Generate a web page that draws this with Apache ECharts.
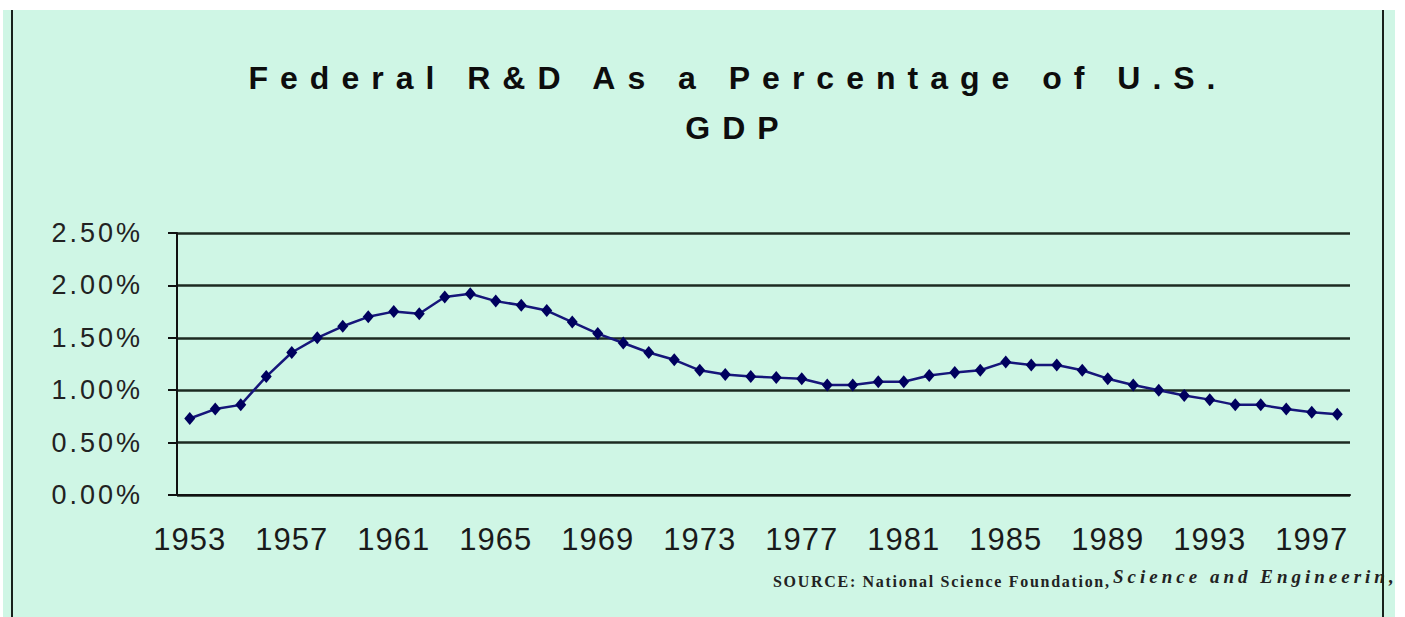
<!DOCTYPE html>
<html>
<head>
<meta charset="utf-8">
<title>Federal R&amp;D As a Percentage of U.S. GDP</title>
<script src="https://cdn.jsdelivr.net/npm/echarts@6/dist/echarts.min.js"></script>
<style>
  html, body { margin: 0; padding: 0; background: #fff; }
  #wrap { position: relative; width: 1405px; height: 617px; overflow: hidden; }
  #bg { position: absolute; left: 3px; top: 10px; width: 1392px; height: 607px; background: #cff6e5; }
  #chart { position: absolute; left: 0; top: 0; width: 1405px; height: 617px; }
  .edge { position: absolute; top: 10px; width: 2px; height: 607px; background: #18221c; z-index: 5; }
  /* the old slide spreads its letters out, svg text lets css do the same */
  #chart text[style*="32px"] { letter-spacing: 12px; }
  #chart text[style*="27px"] { letter-spacing: 3px; }
  #chart text[style*="31px"] { letter-spacing: 1px; }
  #chart text[style*="16px"] { letter-spacing: 1.7px; }
  #chart text[style*="19px"] { letter-spacing: 4px; }
</style>
</head>
<body>
<div id="wrap">
  <div id="bg"></div>
  <div id="chart"></div>
  <div class="edge" style="left:11px"></div>
  <div class="edge" style="left:1382px"></div>
</div>
<script>
// years on the x axis
var years = [
  '1953', '1954', '1955', '1956', '1957', '1958', '1959', '1960', '1961', '1962',
  '1963', '1964', '1965', '1966', '1967', '1968', '1969', '1970', '1971', '1972',
  '1973', '1974', '1975', '1976', '1977', '1978', '1979', '1980', '1981', '1982',
  '1983', '1984', '1985', '1986', '1987', '1988', '1989', '1990', '1991', '1992',
  '1993', '1994', '1995', '1996', '1997', '1998'
];
// federal R&D as % of GDP
var fedRdShare = [
  0.73, 0.82, 0.86, 1.13, 1.36, 1.50, 1.61, 1.70, 1.75, 1.73,
  1.89, 1.92, 1.85, 1.81, 1.76, 1.65, 1.54, 1.45, 1.36, 1.29,
  1.19, 1.15, 1.13, 1.12, 1.11, 1.05, 1.05, 1.08, 1.08, 1.14,
  1.17, 1.19, 1.27, 1.24, 1.24, 1.19, 1.11, 1.05, 1.00, 0.95,
  0.91, 0.86, 0.86, 0.82, 0.79, 0.77
];
var yMax = 2.5;
var yStep = 0.5;

var chart = echarts.init(document.getElementById('chart'), null, { renderer: 'svg' });

var option = {
  animation: false,
  title: {
    text: 'Federal R&D As a Percentage of U.S.\nGDP',
    left: 733,
    top: 48,
    textAlign: 'center',
    textStyle: {
      fontFamily: 'Liberation Sans',
      fontWeight: 'bold',
      fontSize: 32,
      lineHeight: 50,
      color: '#0d0d0d'
    }
  },
  grid: { left: 177, right: 55, top: 233, bottom: 122 },
  xAxis: {
    type: 'category',
    data: years,
    boundaryGap: true,
    axisLine: { lineStyle: { color: '#111', width: 2 } },
    axisTick: { interval: 0, length: 9, lineStyle: { color: '#111', width: 2 } },
    axisLabel: {
      interval: 3,
      margin: 29,
      fontFamily: 'Liberation Sans',
      fontSize: 31,
      color: '#1a1a1a'
    },
    splitLine: { show: false }
  },
  yAxis: {
    type: 'value',
    min: 0,
    max: yMax,
    interval: yStep,
    axisLine: { show: true, lineStyle: { color: '#111', width: 2 } },
    axisTick: { show: true, length: 9, lineStyle: { color: '#111', width: 2 } },
    axisLabel: {
      formatter: function (v) { return v.toFixed(2) + '%'; },
      margin: 34,
      fontFamily: 'Liberation Sans',
      fontSize: 27,
      color: '#222'
    },
    splitLine: { lineStyle: { color: '#1c2a21', width: 2.5 } }
  },
  series: [
    {
      name: 'Federal R&D % of GDP',
      type: 'line',
      data: fedRdShare,
      symbol: 'diamond',
      symbolSize: [11, 13],
      lineStyle: { color: '#16167a', width: 2.5 },
      itemStyle: { color: '#00005e' }
    }
  ],
  graphic: [
    {
      type: 'text',
      left: 773,
      top: 573,
      style: {
        text: 'SOURCE: National Science Foundation,',
        font: 'bold 16px "Liberation Serif"',
        fill: '#222'
      }
    },
    {
      type: 'text',
      left: 1113,
      top: 567,
      style: {
        text: 'Science and Engineerin,',
        font: 'italic bold 19px "Liberation Serif"',
        fill: '#222'
      }
    }
  ]
};
chart.setOption(option);
</script>
</body>
</html>
